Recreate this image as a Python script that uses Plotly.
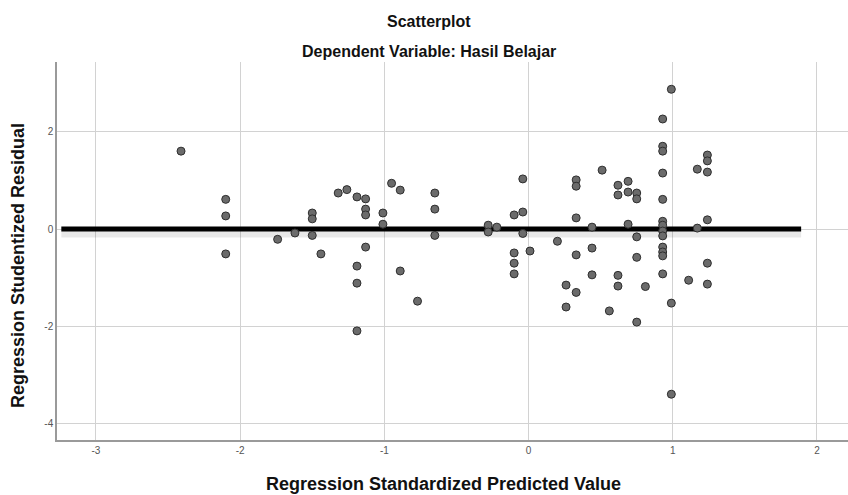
import plotly.graph_objects as go

# Regression Standardized Predicted Value (x) and Studentized Residual (y)
pred = [
    -2.41, -2.10, -2.10, -2.10, -1.74, -1.62, -1.50, -1.50, -1.50, -1.44,
    -1.32, -1.26, -1.19, -1.13, -1.13, -1.13, -1.13, -1.19, -1.19, -1.19,
    -1.01, -1.01, -0.95, -0.89, -0.89, -0.77, -0.65, -0.65, -0.65,
    -0.28, -0.28, -0.22, -0.10, -0.10, -0.10, -0.10, -0.04, -0.04, -0.04, 0.01,
    0.20, 0.26, 0.26, 0.33, 0.33, 0.33, 0.33, 0.33, 0.44, 0.44, 0.44, 0.51,
    0.56, 0.62, 0.62, 0.62, 0.62, 0.69, 0.69, 0.69, 0.75, 0.75, 0.75, 0.75, 0.75, 0.81,
    0.93, 0.93, 0.93, 0.93, 0.93, 0.93, 0.93, 0.93, 0.93, 0.93, 0.93, 0.93, 0.93,
    0.99, 0.99, 0.99, 1.11, 1.17, 1.17,
    1.24, 1.24, 1.24, 1.24, 1.24, 1.24,
]
resid = [
    1.60, 0.61, 0.27, -0.51, -0.21, -0.08, 0.33, 0.21, -0.13, -0.51,
    0.74, 0.81, 0.66, 0.62, 0.41, 0.29, -0.37, -0.76, -1.11, -2.09,
    0.33, 0.10, 0.94, 0.80, -0.86, -1.48, 0.74, 0.41, -0.13,
    0.08, -0.06, 0.04, 0.29, -0.49, -0.70, -0.92, 1.03, 0.35, -0.09, -0.45,
    -0.25, -1.15, -1.60, 1.01, 0.88, 0.23, -0.53, -1.30, 0.04, -0.39, -0.94, 1.21,
    -1.68, 0.90, 0.70, -0.95, -1.17, 0.98, 0.76, 0.10, 0.74, 0.62, -0.16, -0.58, -1.91, -1.18,
    2.26, 1.70, 1.60, 1.15, 0.61, 0.16, 0.08, -0.04, -0.14, -0.37, -0.47, -0.55, -0.92,
    2.87, -1.52, -3.39, -1.05, 1.23, 0.02,
    1.52, 1.40, 1.17, 0.19, -0.70, -1.13,
]

# Reference (fit) line at zero residual
ref_x = [-3.24, 1.89]
ref_y = [0, 0]

x_ticks = [-3, -2, -1, 0, 1, 2]
y_ticks = [-4, -2, 0, 2]

fig = go.Figure()

# soft shadow of the reference line
fig.add_trace(go.Scatter(
    x=ref_x, y=[v - 0.07 for v in ref_y], mode="lines",
    line=dict(color="rgba(0,0,0,0.09)", width=10),
    hoverinfo="skip", showlegend=False,
))
fig.add_trace(go.Scatter(
    x=ref_x, y=ref_y, mode="lines",
    line=dict(color="#000000", width=5),
    hoverinfo="skip", showlegend=False,
))
fig.add_trace(go.Scatter(
    x=pred, y=resid, mode="markers",
    marker=dict(size=8, color="#6b6b6b", line=dict(color="#2e2e2e", width=1)),
    showlegend=False,
))

W, H = 848, 495
L, R, T, B = 57, 0, 62, 55

def px_x(p):
    return (p - L) / (W - L - R)

def px_y(p):
    return (H - B - p) / (H - T - B)

fig.update_layout(
    width=W, height=H,
    margin=dict(l=L, r=R, t=T, b=B),
    paper_bgcolor="white", plot_bgcolor="white",
    font=dict(family="Liberation Sans, Arial, sans-serif", color="#000"),
    annotations=[
        dict(text="<b>Scatterplot</b>", xref="paper", yref="paper",
             x=px_x(429), y=px_y(21), showarrow=False, yanchor="middle",
             font=dict(size=16, color="#111")),
        dict(text="<b>Dependent Variable: Hasil Belajar</b>", xref="paper", yref="paper",
             x=px_x(429), y=px_y(51), showarrow=False, yanchor="middle",
             font=dict(size=16, color="#111")),
        dict(text="<b>Regression Standardized Predicted Value</b>", xref="paper", yref="paper",
             x=px_x(443), y=px_y(484), showarrow=False, yanchor="middle",
             font=dict(size=18, color="#111")),
        dict(text="<b>Regression Studentized Residual</b>", xref="paper", yref="paper",
             x=px_x(18), y=px_y(266), showarrow=False, textangle=-90,
             xanchor="center", yanchor="middle",
             font=dict(size=18, color="#111")),
    ],
)
fig.update_xaxes(
    range=[-3.27, 2.215], tickvals=x_ticks, ticktext=[str(v) for v in x_ticks],
    showgrid=True, gridcolor="#d2d2d2", gridwidth=1, zeroline=False,
    showline=True, linecolor="#9a9a9a", linewidth=1.5,
    ticks="", tickfont=dict(size=10, color="#555"),
)
fig.update_yaxes(
    range=[-4.33, 3.43], tickvals=y_ticks, ticktext=[str(v) for v in y_ticks],
    showgrid=True, gridcolor="#d2d2d2", gridwidth=1, zeroline=False,
    showline=True, linecolor="#9a9a9a", linewidth=1.5,
    ticks="", tickfont=dict(size=10, color="#555"),
)

fig.write_html("out.html")
